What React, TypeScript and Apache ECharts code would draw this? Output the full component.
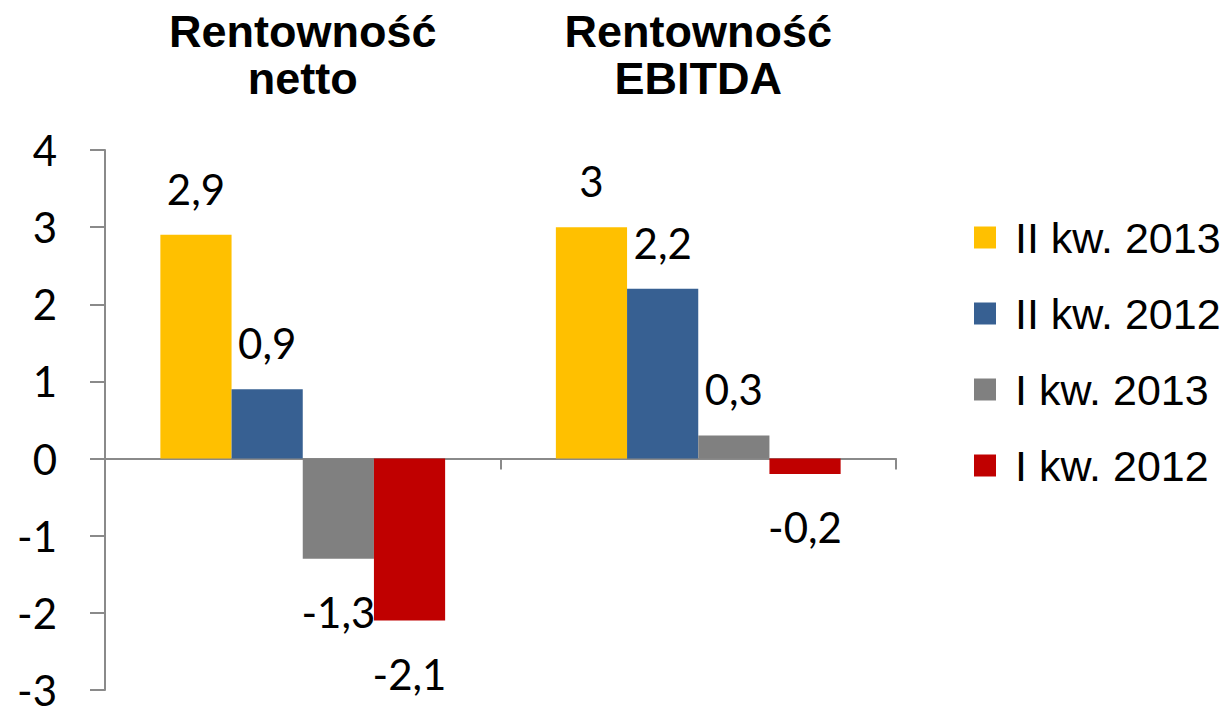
import React, { useEffect, useRef } from "react";
import * as echarts from "echarts";

const categories = ["Rentowność\nnetto", "Rentowność\nEBITDA"];
const seriesNames = ["II kw. 2013", "II kw. 2012", "I kw. 2013", "I kw. 2012"];
const q2_2013 = [2.9, 3];
const q2_2012 = [0.9, 2.2];
const q1_2013 = [-1.3, 0.3];
const q1_2012 = [-2.1, -0.2];
const seriesValues = [q2_2013, q2_2012, q1_2013, q1_2012];
const colors = ["#FFC000", "#376092", "#808080", "#C00000"];
const yMin = -3;
const yMax = 4;
const yStep = 1;

const axisGray = "#8a8a8a";

export default function App() {
  const ref = useRef<HTMLDivElement>(null);
  useEffect(() => {
    if (!ref.current) return;
    const chart = echarts.init(ref.current, undefined, { renderer: "svg" });
    const series = seriesNames.map((name, i) => ({
      name,
      type: "bar",
      xAxisIndex: 0,
      barGap: "0%",
      barCategoryGap: "28%",
      itemStyle: { color: colors[i] },
      label: {
        show: true,
        fontFamily: "Lato",
        fontSize: 42,
        color: "#000",
        formatter: (p: any) => String(p.value).replace(".", ","),
      },
      data: seriesValues[i].map((v) => ({
        value: v,
        label: { position: v >= 0 ? "top" : "bottom", distance: v >= 0 ? 25 : 32 },
      })),
    }));
    chart.setOption({
      animation: false,
      grid: { left: 105, right: 335, top: 150, bottom: 18, containLabel: false },
      legend: {
        data: seriesNames,
        orient: "vertical",
        left: 974,
        top: 216,
        padding: 0,
        icon: "rect",
        itemWidth: 22,
        itemHeight: 22,
        itemGap: 33,
        textStyle: {
          fontFamily: "Liberation Sans",
          fontSize: 43,
          color: "#000",
          padding: [0, 0, 0, 14],
        },
      },
      xAxis: [
        {
          type: "category",
          data: categories,
          position: "bottom",
          axisLine: { show: true, onZero: true, lineStyle: { color: axisGray, width: 2 } },
          axisTick: { show: true, length: 11, lineStyle: { color: axisGray, width: 2 } },
          axisLabel: { show: false },
          splitLine: { show: false },
        },
        {
          type: "category",
          data: categories,
          position: "top",
          axisLine: { show: false, onZero: false },
          axisTick: { show: false },
          splitLine: { show: false },
          axisLabel: {
            fontFamily: "Liberation Sans",
            fontWeight: "bold",
            fontSize: 45,
            lineHeight: 47,
            color: "#000",
            margin: 48,
          },
        },
      ],
      yAxis: {
        type: "value",
        min: yMin,
        max: yMax,
        interval: yStep,
        splitLine: { show: false },
        axisLine: { show: true, lineStyle: { color: axisGray, width: 2 } },
        axisTick: { show: true, length: 15, lineStyle: { color: axisGray, width: 2 } },
        axisLabel: { fontFamily: "Lato", fontSize: 42, color: "#000", margin: 48 },
      },
      series,
    });
    return () => chart.dispose();
  }, []);
  return (
    <div
      ref={ref}
      style={{ position: "absolute", left: 0, top: 0, width: 1231, height: 711, background: "#fff" }}
    />
  );
}
